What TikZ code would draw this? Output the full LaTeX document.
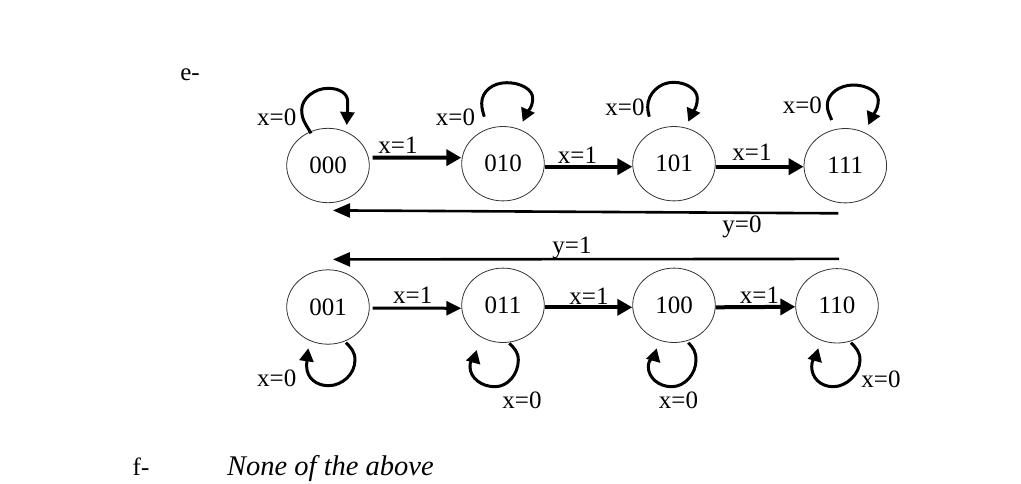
\documentclass[tikz,border=0pt]{standalone}
\usepackage{fontspec}
\setmainfont{Liberation Serif}
\usetikzlibrary{arrows.meta,shapes.geometric,calc}
\begin{document}
\begin{tikzpicture}[x=1pt,y=-1pt,
  st/.style={ellipse,draw=black!80,line width=0.8pt,minimum width=82.6pt,minimum height=74.4pt,inner sep=0pt,font=\fontsize{25}{30}\selectfont},
  lbl/.style={inner sep=0pt,font=\fontsize{25}{30}\selectfont},
  thk/.style={line width=4pt,-{Triangle[length=15pt,width=16pt]}},
  mid/.style={line width=3pt,-{Triangle[length=15pt,width=14pt]}},
  back/.style={line width=2.6pt,-{Triangle[length=17pt,width=14pt]}},
  loopln/.style={line width=3pt,-{Triangle[length=13pt,width=14pt]}}]
\useasboundingbox (0,0) rectangle (1021,483);

% states
\node[st] (n000) at (328,165.5) {000};
\node[st] (n010) at (503,163.7) {010};
\node[st] (n101) at (674,163.7) {101};
\node[st] (n111) at (845.3,165.7) {111};
\node[st] (n001) at (328,307) {001};
\node[st] (n011) at (503,305.3) {011};
\node[st] (n100) at (674,305.3) {100};
\node[st] (n110) at (837,305.8) {110};

% forward transitions
\draw[thk] ($(n000.east)+(3,-8)$) -- ($(n010.west)+(0,-6)$);
\draw[thk] ($(n010.east)+(0,3)$) -- ($(n101.west)+(0,3)$);
\draw[thk] ($(n101.east)+(0,3)$) -- ($(n111.west)+(0,1)$);
\draw[mid] ($(n001.east)+(3,1)$) -- ($(n011.west)+(0,3)$);
\draw[thk] ($(n011.east)+(0,2)$) -- ($(n100.west)+(0,2)$);
\draw[thk] ($(n100.east)+(0,2)$) -- ($(n110.west)+(0,1)$);

% return transitions
\draw[back] ($(n111.south)+(-7,10)$) -- ($(n000.south)+(5,7.3)$);
\draw[back] ($(n110.north)+(2,-9.3)$) -- ($(n001.north)+(5,-10)$);

% self loops (top)
\begin{scope}[shift={(n000.center)}]
\draw[loopln] (-17,-32.2) .. controls +(-5,-9) and +(0,10) .. (-26.3,-55.5)
  .. controls +(0,-12) and +(-13,0) .. (0,-77.2)
  .. controls +(12,0) and +(0,-8) .. (19.7,-63.8)
  .. controls +(0,9) and +(0.5,-9) .. (18.7,-40.5);
\end{scope}
\begin{scope}[shift={(n010.center)}]
\draw[loopln] (-18.7,-47) .. controls +(-1.5,-5) and +(0,5) .. (-21.3,-60.4)
  .. controls +(0,-12) and +(-14,0) .. (3.7,-81)
  .. controls +(14,0) and +(0,-9) .. (29.7,-65.4)
  .. controls +(0,10) and +(4,-9) .. (19.7,-42);
\end{scope}
\begin{scope}[shift={(n101.center)}]
\draw[loopln] (-24.7,-47) .. controls +(-1,-4) and +(0,4) .. (-26.3,-57)
  .. controls +(0,-13) and +(-14,0) .. (-0.7,-81.4)
  .. controls +(13,0) and +(0,-9) .. (23.3,-65.4)
  .. controls +(0,10) and +(4,-9) .. (14.3,-42);
\end{scope}
\begin{scope}[shift={(n111.center)}]
\draw[loopln] (-13.6,-45.7) .. controls +(-2.5,-6) and +(0,6) .. (-18,-60.7)
  .. controls +(0,-11) and +(-14,0) .. (8,-80.7)
  .. controls +(14,0) and +(0,-8) .. (33,-65.7)
  .. controls +(0,10) and +(4,-9) .. (23,-40.7);
\end{scope}

% self loops (bottom)
\begin{scope}[shift={(n001.center)}]
\draw[loopln] (18,35.7) .. controls +(5,5) and +(0,-8) .. (27,53)
  .. controls +(0,14) and +(14,0) .. (0.3,78.7)
  .. controls +(-12,0) and +(0,11) .. (-21.3,59.7)
  .. controls +(0,-7) and +(-1,7) .. (-19.7,41.3);
\end{scope}
\begin{scope}[shift={(n011.center)}]
\draw[loopln] (6.3,38) .. controls +(5,5) and +(0,-8) .. (15.3,54.7)
  .. controls +(0,14) and +(13,0) .. (-8,81.4)
  .. controls +(-14,0) and +(0,11) .. (-33,61.4)
  .. controls +(0,-8) and +(-2,7) .. (-26.3,44.7);
\end{scope}
\begin{scope}[shift={(n100.center)}]
\draw[loopln] (14.3,37.4) .. controls +(5,5) and +(0,-8) .. (22,54.7)
  .. controls +(0,14) and +(13,0) .. (-2.3,81.4)
  .. controls +(-13,0) and +(0,11) .. (-25.7,61.4)
  .. controls +(0,-8) and +(-2,7) .. (-17.3,43);
\end{scope}
\begin{scope}[shift={(n110.center)}]
\draw[loopln] (14,36.9) .. controls +(5,5) and +(0,-8) .. (23,54.2)
  .. controls +(0,14) and +(13,0) .. (-3.7,80.9)
  .. controls +(-13,0) and +(0,11) .. (-25.3,60.9)
  .. controls +(0,-8) and +(-2,7) .. (-18.7,42.5);
\end{scope}

% labels
\node[lbl] (l1) at (398,145) {x=1};
\node[lbl] (l2) at (577.5,155) {x=1};
\node[lbl] (l3) at (752,152.5) {x=1};
\node[lbl] (l4) at (412.7,295) {x=1};
\node[lbl] (l5) at (589,296.5) {x=1};
\node[lbl] (l6) at (759.5,295) {x=1};
\node[lbl] (ly0) at (742,227) {y=0};
\node[lbl] (ly1) at (572,248) {y=1};
\node[lbl] (s1) at (276.7,117.5) {x=0};
\node[lbl] (s2) at (455.5,117) {x=0};
\node[lbl] (s3) at (625,107) {x=0};
\node[lbl] (s4) at (802.3,105) {x=0};
\node[lbl] (s5) at (276.7,378) {x=0};
\node[lbl] (s6) at (522,400) {x=0};
\node[lbl] (s7) at (678.5,400.8) {x=0};
\node[lbl] (s8) at (881,379) {x=0};

\node[lbl] (e) at (190,75) {e-};
\node[lbl] (f) at (141,467) {f-};
\node[lbl,anchor=west,font=\fontsize{28.5}{32}\selectfont\itshape] (none) at (227,468) {None of the above};
\end{tikzpicture}
\end{document}
